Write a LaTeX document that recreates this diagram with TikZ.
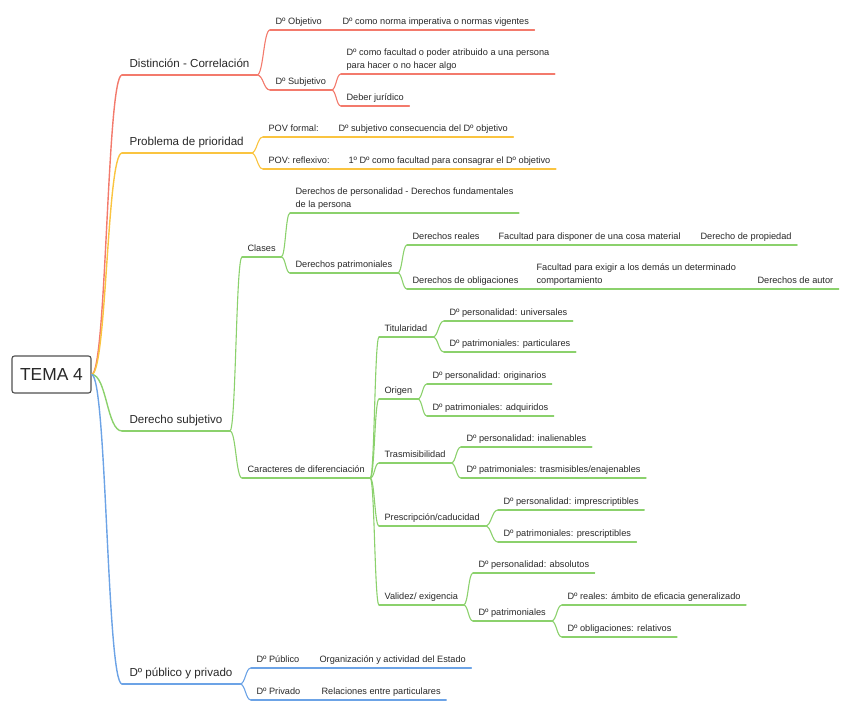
\documentclass[tikz,border=0pt]{standalone}
\usepackage{fontspec}
\setmainfont{Liberation Sans}
\usetikzlibrary{calc}

\definecolor{redbr}{RGB}{243,122,108}
\definecolor{orangebr}{RGB}{250,196,64}
\definecolor{greenbr}{RGB}{139,209,108}
\definecolor{bluebr}{RGB}{108,163,230}
\definecolor{textc}{RGB}{40,40,40}
\definecolor{boxline}{RGB}{80,80,80}

\tikzset{
  central/.style={draw=boxline, line width=1.1pt, rounded corners=2.5pt, fill=white,
    minimum width=79pt, minimum height=37pt, inner sep=0pt, text=textc,
    font=\fontsize{17.4}{20}\selectfont},
  topic/.style={anchor=south west, inner xsep=7pt, inner ysep=4.4pt, text=textc,
    text depth=2.9pt, font=\fontsize{11.6}{14}\selectfont},
  subtopic/.style={anchor=south west, inner xsep=5pt, inner ysep=3pt, text=textc,
    text depth=2.3pt, align=left, font=\fontsize{9.2}{12.5}\selectfont},
  branch/.style={to path={let \p1=(\tikztostart), \p2=(\tikztotarget) in
    .. controls ({(\x1+\x2)/2},\y1) and ({(\x1+\x2)/2},\y2) .. (\tikztotarget)}},
  trunk/.style={line width=1.4pt},
}

\begin{document}
\begin{tikzpicture}[x=1pt, y=-1pt, line width=1.1pt, line cap=round]
  \useasboundingbox (0,0) rectangle (848,712);

  \node[central] (tema) at (51.5,374.5) {TEMA 4};

  \node[topic]    (dist)  at (122,75)  {Distinción - Correlación};
  \node[subtopic] (dobj)  at (270,30)  {Dº Objetivo};
  \node[subtopic] (dobjn) at (337,30)  {Dº como norma imperativa o normas vigentes};
  \node[subtopic] (dsub)  at (270,90)  {Dº Subjetivo};
  \node[subtopic] (dsubf) at (341,74)  {Dº como facultad o poder atribuido a una persona\\para hacer o no hacer algo};
  \node[subtopic] (dsubd) at (341,106) {Deber jurídico};

  \node[topic]    (prob)  at (122,153) {Problema de prioridad};
  \node[subtopic] (povf)  at (263,137) {POV formal:};
  \node[subtopic] (povfd) at (333,137) {Dº subjetivo consecuencia del Dº objetivo};
  \node[subtopic] (povr)  at (263,169) {POV: reflexivo:};
  \node[subtopic] (povrd) at (343,169) {1º Dº como facultad para consagrar el Dº objetivo};

  \node[topic]    (dsj)    at (122,431) {Derecho subjetivo};
  \node[subtopic] (clases) at (242,257) {Clases};
  \node[subtopic] (dpers)  at (290,213) {Derechos de personalidad - Derechos fundamentales\\de la persona};
  \node[subtopic] (dpat)   at (290,273) {Derechos patrimoniales};
  \node[subtopic] (dreal)  at (407,245) {Derechos reales};
  \node[subtopic] (dreald) at (493,245) {Facultad para disponer de una cosa material};
  \node[subtopic] (drealp) at (695,245) {Derecho de propiedad};
  \node[subtopic] (dobl)   at (407,289) {Derechos de obligaciones};
  \node[subtopic] (dobld)  at (531,289) {Facultad para exigir a los demás un determinado\\comportamiento};
  \node[subtopic] (dobla)  at (752,289) {Derechos de autor};
  \node[subtopic] (carac)  at (242,478) {Caracteres de diferenciación};
  \node[subtopic] (tit)    at (379,337) {Titularidad};
  \node[subtopic] (tit1)   at (444,321) {Dº personalidad: universales};
  \node[subtopic] (tit2)   at (444,352) {Dº patrimoniales: particulares};
  \node[subtopic] (ori)    at (379,399) {Origen};
  \node[subtopic] (ori1)   at (427,384) {Dº personalidad: originarios};
  \node[subtopic] (ori2)   at (427,416) {Dº patrimoniales: adquiridos};
  \node[subtopic] (tras)   at (379,463) {Trasmisibilidad};
  \node[subtopic] (tras1)  at (461,447) {Dº personalidad: inalienables};
  \node[subtopic] (tras2)  at (461,478) {Dº patrimoniales: trasmisibles/enajenables};
  \node[subtopic] (pres)   at (379,526) {Prescripción/caducidad};
  \node[subtopic] (pres1)  at (498,510) {Dº personalidad: imprescriptibles};
  \node[subtopic] (pres2)  at (498,542) {Dº patrimoniales: prescriptibles};
  \node[subtopic] (val)    at (379,605) {Validez/ exigencia};
  \node[subtopic] (val1)   at (473,573) {Dº personalidad: absolutos};
  \node[subtopic] (val2)   at (473,621) {Dº patrimoniales};
  \node[subtopic] (val21)  at (562,605) {Dº reales: ámbito de eficacia generalizado};
  \node[subtopic] (val22)  at (562,637) {Dº obligaciones: relativos};

  \node[topic]    (dpub)  at (122,684) {Dº público y privado};
  \node[subtopic] (pub)   at (251,668) {Dº Público};
  \node[subtopic] (pubd)  at (314,668) {Organización y actividad del Estado};
  \node[subtopic] (priv)  at (251,700) {Dº Privado};
  \node[subtopic] (privd) at (316,700) {Relaciones entre particulares};

  \foreach \n in {dist,dobj,dobjn,dsub,dsubf,dsubd}
    \draw[redbr] (\n.south west) -- (\n.south east);
  \foreach \n in {prob,povf,povfd,povr,povrd}
    \draw[orangebr] (\n.south west) -- (\n.south east);
  \foreach \n in {dsj,clases,dpers,dpat,dreal,dreald,drealp,dobl,dobld,dobla,carac,
      tit,tit1,tit2,ori,ori1,ori2,tras,tras1,tras2,pres,pres1,pres2,val,val1,val2,val21,val22}
    \draw[greenbr] (\n.south west) -- (\n.south east);
  \foreach \n in {dpub,pub,pubd,priv,privd}
    \draw[bluebr] (\n.south west) -- (\n.south east);

  \draw[redbr, trunk] (tema.east) to[branch] (dist.south west);
  \draw[redbr] (dist.south east) to[branch] (dobj.south west);
  \draw[redbr] (dobj.south east) -- (dobjn.south west);
  \draw[redbr] (dist.south east) to[branch] (dsub.south west);
  \draw[redbr] (dsub.south east) to[branch] (dsubf.south west);
  \draw[redbr] (dsub.south east) to[branch] (dsubd.south west);

  \draw[orangebr, trunk] (tema.east) to[branch] (prob.south west);
  \draw[orangebr] (prob.south east) to[branch] (povf.south west);
  \draw[orangebr] (povf.south east) -- (povfd.south west);
  \draw[orangebr] (prob.south east) to[branch] (povr.south west);
  \draw[orangebr] (povr.south east) -- (povrd.south west);

  \draw[greenbr, trunk] (tema.east) to[branch] (dsj.south west);
  \draw[greenbr] (dsj.south east) to[branch] (clases.south west);
  \draw[greenbr] (clases.south east) to[branch] (dpers.south west);
  \draw[greenbr] (clases.south east) to[branch] (dpat.south west);
  \draw[greenbr] (dpat.south east) to[branch] (dreal.south west);
  \draw[greenbr] (dreal.south east) -- (dreald.south west);
  \draw[greenbr] (dreald.south east) -- (drealp.south west);
  \draw[greenbr] (dpat.south east) to[branch] (dobl.south west);
  \draw[greenbr] (dobl.south east) -- (dobld.south west);
  \draw[greenbr] (dobld.south east) -- (dobla.south west);
  \draw[greenbr] (dsj.south east) to[branch] (carac.south west);
  \foreach \k in {tit,ori,tras,pres,val}
    \draw[greenbr] (carac.south east) to[branch] (\k.south west);
  \foreach \k/\c in {tit/tit1,tit/tit2,ori/ori1,ori/ori2,tras/tras1,tras/tras2,
      pres/pres1,pres/pres2,val/val1,val/val2,val2/val21,val2/val22}
    \draw[greenbr] (\k.south east) to[branch] (\c.south west);

  \draw[bluebr, trunk] (tema.east) to[branch] (dpub.south west);
  \draw[bluebr] (dpub.south east) to[branch] (pub.south west);
  \draw[bluebr] (pub.south east) -- (pubd.south west);
  \draw[bluebr] (dpub.south east) to[branch] (priv.south west);
  \draw[bluebr] (priv.south east) -- (privd.south west);
\end{tikzpicture}
\end{document}
